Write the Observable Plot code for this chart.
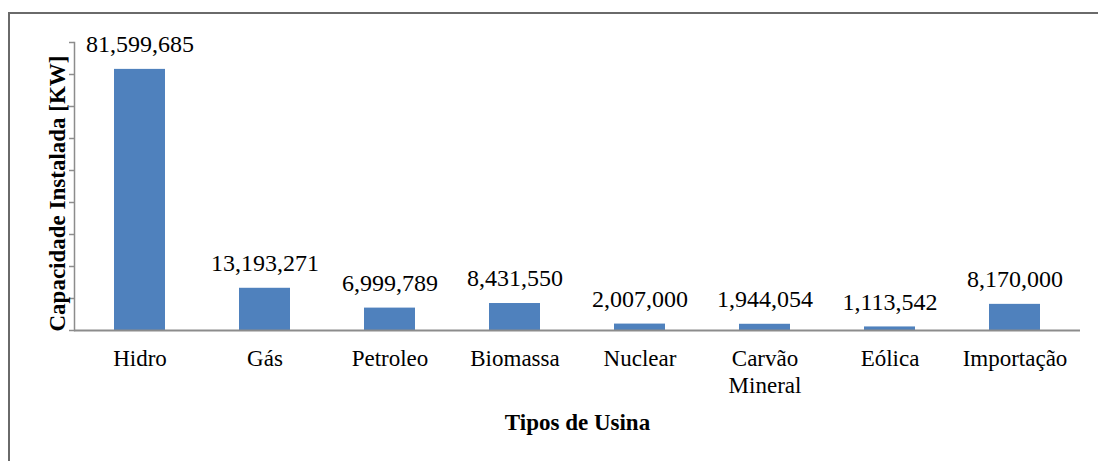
<!DOCTYPE html>
<html>
<head>
<meta charset="utf-8">
<script src="https://cdn.jsdelivr.net/npm/d3@7"></script>
<script src="https://cdn.jsdelivr.net/npm/@observablehq/plot@0.6"></script>
<style>
  html, body { margin: 0; padding: 0; background: #fff; overflow: hidden; }
  #wrap { position: relative; width: 1098px; height: 461px; }
  #box { position: absolute; left: 8px; top: 12px; right: -20px; bottom: -20px; border: 2px solid #6a6a6a; }
  #chart { position: absolute; left: 0; top: 0; }
</style>
</head>
<body>
<div id="wrap"><div id="box"></div><div id="chart"></div></div>
<script>
const categories = ["Hidro", "Gás", "Petroleo", "Biomassa", "Nuclear", "Carvão\nMineral", "Eólica", "Importação"];
const values = [81599685, 13193271, 6999789, 8431550, 2007000, 1944054, 1113542, 8170000];
const yTicks = [0, 10e6, 20e6, 30e6, 40e6, 50e6, 60e6, 70e6, 80e6, 90e6];
const xTitle = "Tipos de Usina";
const yTitle = "Capacidade Instalada [KW]";

const data = categories.map((c, i) => ({cat: c, val: values[i]}));
const fmt = d3.format(",");
const axisColor = "#8c8c8c";
const fs = 23;

const chart = Plot.plot({
  width: 1098,
  height: 461,
  marginLeft: 74,
  marginRight: 18,
  marginTop: 42,
  marginBottom: 131,
  style: {fontFamily: "'Liberation Serif', 'Times New Roman', serif", fontSize: fs + "px", color: "#000", background: "transparent"},
  x: {domain: categories, paddingInner: 0.595, paddingOuter: 0.2975, label: null},
  y: {domain: [0, 90e6], label: null},
  marks: [
    Plot.barY(data, {x: "cat", y: "val", fill: "#4F81BD"}),
    Plot.ruleY([0], {stroke: axisColor, strokeWidth: 2}),
    Plot.frame({anchor: "left", stroke: axisColor, strokeWidth: 1.5}),
    Plot.axisY({ticks: yTicks, tickFormat: () => "", tickSize: 5, stroke: axisColor, strokeWidth: 1.5, label: null}),
    Plot.axisX({tickSize: 0, tickPadding: 16, fontSize: fs, lineHeight: 1.17, fill: "#000", label: null}),
    Plot.text(data, {x: "cat", y: "val", text: d => fmt(d.val), dy: -25, fontSize: 24, fill: "#000"}),
    Plot.text([xTitle], {frameAnchor: "bottom", lineAnchor: "middle", dy: 92, fontWeight: "bold", fontSize: fs, fill: "#000"}),
    Plot.text([yTitle], {frameAnchor: "left", textAnchor: "middle", lineAnchor: "middle", dx: -17, dy: 7, rotate: -90, fontWeight: "bold", fontSize: fs, fill: "#000"})
  ]
});
document.getElementById("chart").appendChild(chart);
</script>
</body>
</html>
